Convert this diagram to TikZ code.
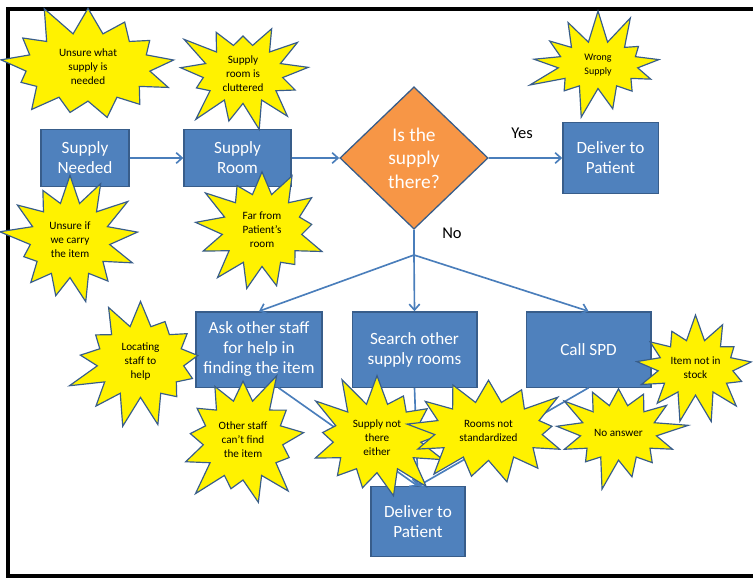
\documentclass[tikz,border=0pt]{standalone}
\usepackage{fontspec}
\setmainfont{Carlito}
\usetikzlibrary{shapes.geometric,shapes.symbols,arrows.meta}
\definecolor{boxblue}{HTML}{4F81BD}
\definecolor{boxline}{HTML}{385D8A}
\definecolor{deciorange}{HTML}{F79646}
\definecolor{flowblue}{HTML}{4A7EBB}
\tikzset{
  stepbox/.style={draw=boxline, fill=boxblue, text=white, line width=1.1pt,
    align=center, inner sep=0pt, font=\fontsize{14.6}{17}\selectfont},
  decision/.style={diamond, draw=boxline, fill=deciorange, text=white,
    line width=1.1pt, align=center, inner sep=0pt, aspect=1.04,
    minimum width=126pt, minimum height=121pt, font=\fontsize{16.5}{20}\selectfont},
  issue/.style={starburst, starburst points=13, starburst point height=28pt,
    random starburst=#1, draw=boxline, fill=yellow, line width=1pt,
    align=center, inner sep=0pt, font=\fontsize{9.5}{12}\selectfont},
  flow/.style={draw=flowblue, line width=1.4pt},
  lbl/.style={font=\fontsize{14}{16}\selectfont}
}
\begin{document}
\begin{tikzpicture}[x=0.85pt, y=-0.85pt, >={Straight Barb[length=5pt, width=9pt]}]
\useasboundingbox (0,0) rectangle (753,578);
% Frame
\draw[line width=3.4pt] (753,9) -- (8,9) -- (8,576) -- (753,576);

% Process steps
\node[stepbox, minimum width=75pt, minimum height=49pt] (need) at (85,158) {Supply\\Needed};
\node[stepbox, minimum width=91pt, minimum height=49pt] (room) at (237.5,158) {Supply\\Room};
\node[decision] (dia) at (414,158) {Is the\\supply\\there?};
\node[stepbox, minimum width=81pt, minimum height=60pt] (deliver) at (610.5,158) {Deliver to\\Patient};
\node[stepbox, minimum width=107pt, minimum height=64pt] (ask) at (259,349.5) {Ask other staff\\for help in\\finding the item};
\node[stepbox, minimum width=106pt, minimum height=64pt] (search) at (414.5,349.5) {Search other\\supply rooms};
\node[stepbox, minimum width=106pt, minimum height=64pt] (spd) at (588.5,349.5) {Call SPD};
\node[stepbox, minimum width=80pt, minimum height=59pt] (final) at (418,521.5) {Deliver to\\Patient};
\coordinate (split) at (414,255);

% Answers
\node[lbl] (yes) at (522,133) {Yes};
\node[lbl] (no) at (452,233) {No};

% Connectors
\draw[flow,->] (need) -- (room);
\draw[flow,->] (room) -- (dia);
\draw[flow,->] (dia) -- (deliver);
\draw[flow] (dia.south) -- (split);
\foreach \t in {ask,search,spd}
  \draw[flow,->] (split) -- (\t.north);
\draw[flow,->] (ask.-63) -- (final.north);
\foreach \t in {search,spd}
  \draw[flow,->] (\t.south) -- (final.north);

% Problems
\node[issue=11, minimum width=162pt, minimum height=114pt] (s1) at (88,67) {Unsure what\\supply is\\needed};
\node[issue=23, minimum width=124pt, minimum height=106pt] (s2) at (243,74) {Supply\\room is\\cluttered};
\node[issue=37, minimum width=124pt, minimum height=120pt] (s3) at (70,240) {Unsure if\\we carry\\the item};
\node[issue=41, minimum width=124pt, minimum height=118pt] (s4) at (262,230) {Far from\\Patient’s\\room};
\node[issue=53, minimum width=124pt, minimum height=96pt, font=\fontsize{8.5}{12}\selectfont] (s5) at (598,65) {Wrong\\Supply};
\node[issue=67, minimum width=130pt, minimum height=117pt] (s6) at (140.5,361.5) {Locating\\staff to\\help};
\node[issue=71, minimum width=124pt, minimum height=124pt] (s7) at (243,440) {Other staff\\can’t find\\the item};
\node[issue=83, minimum width=131pt, minimum height=115pt] (s8) at (377,438) {Supply not\\there\\either};
\node[issue=97, minimum width=148pt, minimum height=106pt] (s9) at (488.5,431) {Rooms not\\standardized};
\node[issue=101, minimum width=121pt, minimum height=103pt] (s10) at (618.5,432.5) {No answer};
\node[issue=113, minimum width=120pt, minimum height=103pt] (s11) at (695.5,367.5) {Item not in\\stock};
\end{tikzpicture}
\end{document}
